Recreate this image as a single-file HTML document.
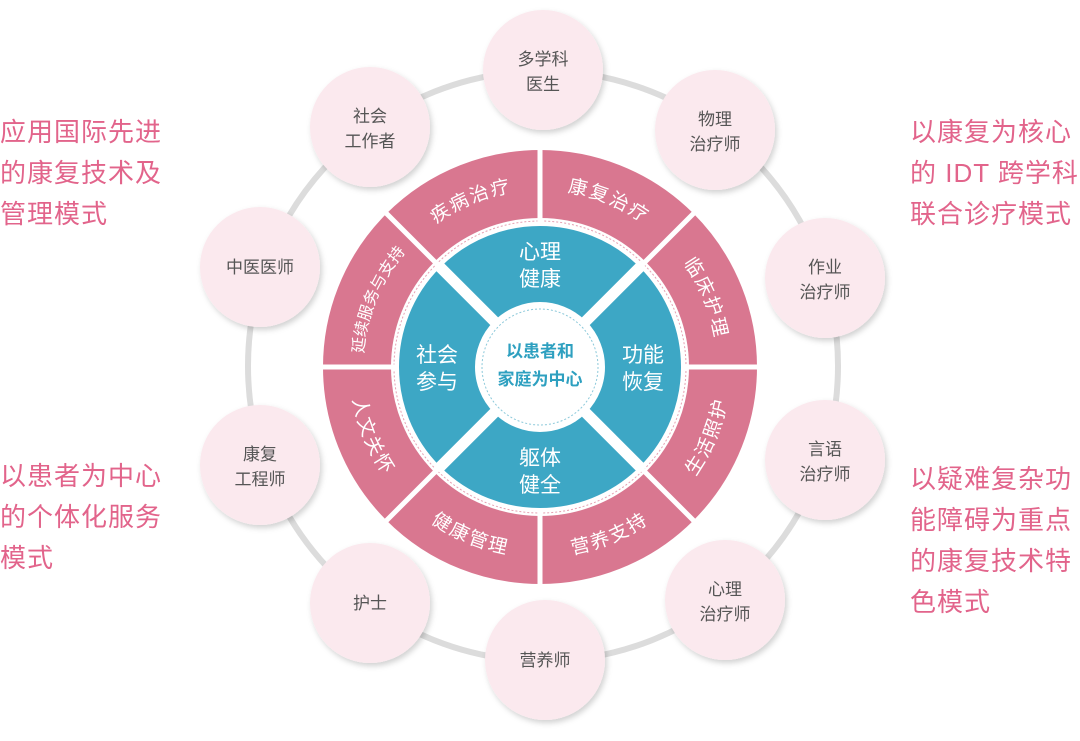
<!DOCTYPE html>
<html><head><meta charset="utf-8">
<style>
html,body{margin:0;padding:0;background:#fff;}
body{width:1080px;height:741px;overflow:hidden;position:relative;font-family:"Liberation Sans","Noto Sans CJK SC",sans-serif;}
.side{position:absolute;color:#e2648b;font-size:26px;line-height:41px;letter-spacing:1px;white-space:nowrap;font-family:"Liberation Sans","Noto Sans CJK SC",sans-serif;}
svg{position:absolute;left:0;top:0;}
</style></head><body>
<div class="side" style="left:0;top:112px;">应用国际先进<br>的康复技术及<br>管理模式</div>
<div class="side" style="left:910px;top:112px;">以康复为核心<br>的 IDT 跨学科<br>联合诊疗模式</div>
<div class="side" style="left:0;top:456px;">以患者为中心<br>的个体化服务<br>模式</div>
<div class="side" style="left:910px;top:459px;">以疑难复杂功<br>能障碍为重点<br>的康复技术特<br>色模式</div>
<svg id="s" width="1080" height="741" xmlns="http://www.w3.org/2000/svg"></svg>
<script>
var s=document.getElementById('s'),h='';
var CX=540,CY=367;
h+='<defs><filter id="sh" x="-20%" y="-20%" width="150%" height="150%"><feDropShadow dx="2" dy="3" stdDeviation="3" flood-color="#000" flood-opacity="0.18"/></filter></defs>';
h+='<circle cx="543" cy="366" r="295" fill="none" stroke="#dcdcdc" stroke-width="6"/>';
var nodes=[[543,70,'多学科','医生'],[715,130,'物理','治疗师'],[825,278,'作业','治疗师'],[825,460,'言语','治疗师'],[725,600,'心理','治疗师'],[545,660,'营养师'],[370,603,'护士'],[260,465,'康复','工程师'],[260,267,'中医医师'],[370,127,'社会','工作者']];
nodes.forEach(function(n){
 h+='<circle cx="'+n[0]+'" cy="'+n[1]+'" r="60" fill="#fbe9ee" filter="url(#sh)"/>';
 var st='font-size="17" fill="#555" text-anchor="middle" font-family="Liberation Sans, Noto Sans CJK SC, sans-serif"';
 if(n.length==4){h+='<text x="'+n[0]+'" y="'+(n[1]-5)+'" '+st+'>'+n[2]+'</text><text x="'+n[0]+'" y="'+(n[1]+20)+'" '+st+'>'+n[3]+'</text>';}
 else h+='<text x="'+n[0]+'" y="'+(n[1]+6)+'" '+st+'>'+n[2]+'</text>';
});
h+='<circle cx="'+CX+'" cy="'+CY+'" r="183" fill="none" stroke="#d97790" stroke-width="68"/>';
h+='<circle cx="'+CX+'" cy="'+CY+'" r="145" fill="#fff"/>';
h+='<circle cx="'+CX+'" cy="'+CY+'" r="146" fill="none" stroke="#e6a0b2" stroke-width="1" stroke-dasharray="2 2"/>';
function pt(r,a){a=a*Math.PI/180;return (CX+r*Math.cos(a)).toFixed(1)+','+(CY+r*Math.sin(a)).toFixed(1);}
function ln(r1,r2,a,w){var p=pt(r1,a).split(','),q=pt(r2,a).split(',');return '<line x1="'+p[0]+'" y1="'+p[1]+'" x2="'+q[0]+'" y2="'+q[1]+'" stroke="#fff" stroke-width="'+w+'"/>';}
for(var a=0;a<360;a+=45){h+=ln(140,222,a,5);}
h+='<circle cx="'+CX+'" cy="'+CY+'" r="103" fill="none" stroke="#3da7c5" stroke-width="76"/>';
for(var a=45;a<360;a+=90){h+=ln(60,145,a,11);}
h+='<circle cx="'+CX+'" cy="'+CY+'" r="63" fill="#fff"/>';
h+='<circle cx="'+CX+'" cy="'+CY+'" r="58" fill="none" stroke="#8cc9da" stroke-width="1" stroke-dasharray="2 2"/>';
var ct='font-size="17" fill="#2ea0c0" font-weight="bold" text-anchor="middle" font-family="Liberation Sans, Noto Sans CJK SC, sans-serif"';
h+='<text x="'+CX+'" y="'+(CY-10)+'" '+ct+'>以患者和</text><text x="'+CX+'" y="'+(CY+18)+'" '+ct+'>家庭为中心</text>';
var bt='font-size="21" fill="#fff" text-anchor="middle" font-family="Liberation Sans, Noto Sans CJK SC, sans-serif"';
[[0,-103,'心理','健康'],[103,0,'功能','恢复'],[0,103,'躯体','健全'],[-103,0,'社会','参与']].forEach(function(b){
 var x=CX+b[0],y=CY+b[1];
 h+='<text x="'+x+'" y="'+(y-5)+'" '+bt+'>'+b[2]+'</text><text x="'+x+'" y="'+(y+22)+'" '+bt+'>'+b[3]+'</text>';
});
var labs=[[-112.5,'疾病治疗'],[-67.5,'康复治疗'],[-22.5,'临床护理'],[22.5,'生活照护'],[67.5,'营养支持'],[112.5,'健康管理'],[157.5,'人文关怀'],[-157.5,'延续服务与支持']];
var d='';
labs.forEach(function(l,i){
 var m=l[0],top=Math.sin(m*Math.PI/180)<0,p;
 if(top){var r=177;p='M'+pt(r,m-22)+' A'+r+','+r+' 0 0 1 '+pt(r,m+22);}
 else{var r=190;p='M'+pt(r,m+22)+' A'+r+','+r+' 0 0 0 '+pt(r,m-22);}
 d+='<path id="p'+i+'" d="'+p+'" fill="none"/>';
 var long=l[1].length>5;
 h+='<text font-size="'+(long?16:19)+'" fill="#fff" letter-spacing="'+(long?0:2)+'" font-family="Liberation Sans, Noto Sans CJK SC, sans-serif"><textPath href="#p'+i+'" startOffset="50%" text-anchor="middle">'+l[1]+'</textPath></text>';
});
s.innerHTML='<defs>'+d+'</defs>'+h;
</script>
</body></html>
